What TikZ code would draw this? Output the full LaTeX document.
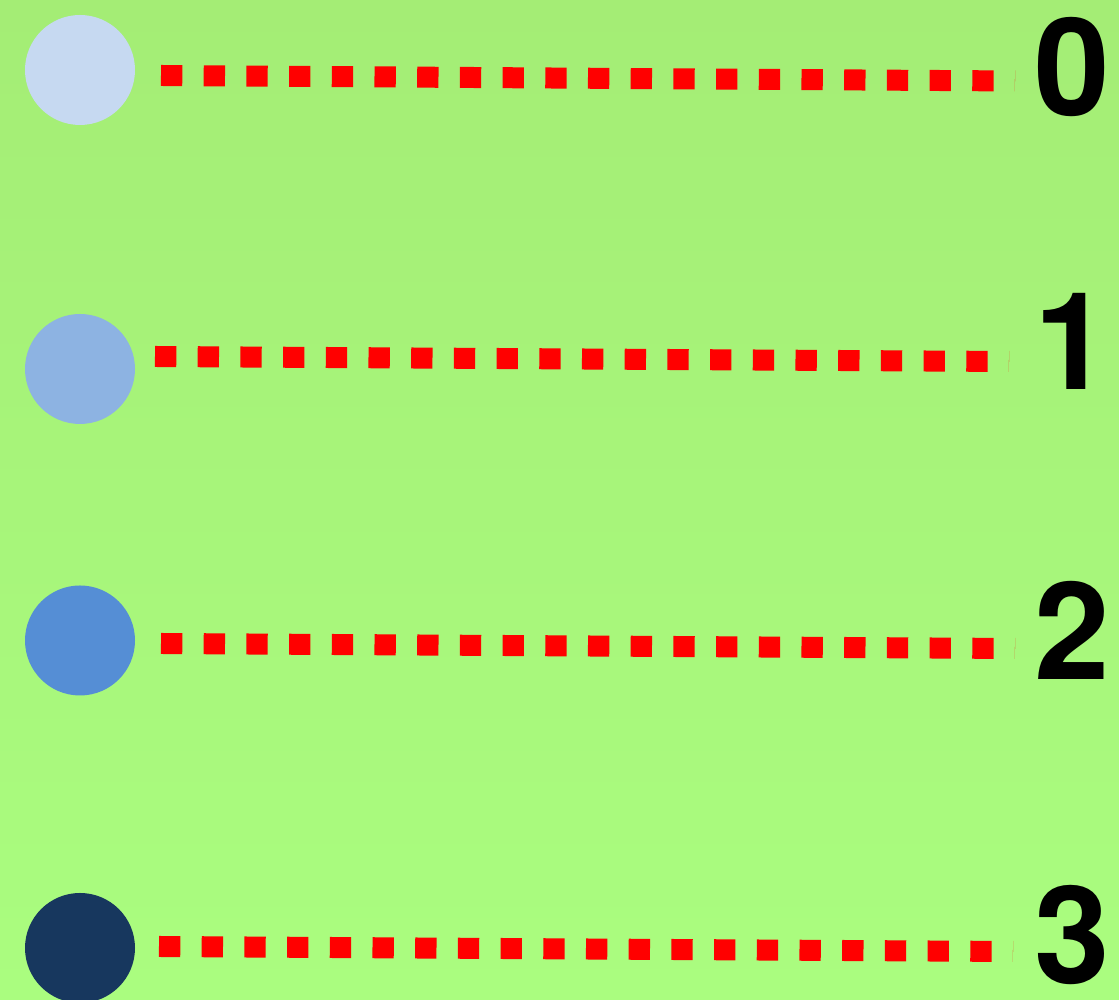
\documentclass[tikz,border=0pt]{standalone}
\usepackage{fontspec}
\setmainfont{TeX Gyre Heros}
\usetikzlibrary{shapes.geometric}

\definecolor{bgtop}{RGB}{164,237,117}
\definecolor{bgbottom}{RGB}{170,253,127}
\definecolor{levelzero}{RGB}{198,217,241}
\definecolor{levelone}{RGB}{141,179,226}
\definecolor{leveltwo}{RGB}{85,142,213}
\definecolor{levelthree}{RGB}{23,55,94}

\tikzset{
  dot/.style={circle, inner sep=0pt, minimum size=1.1cm, draw=none},
  levelnum/.style={anchor=base, inner sep=0pt, font=\fontsize{38.6}{40}\selectfont\bfseries},
  dotline/.style={draw=red, line width=0.21cm, line cap=butt, dash pattern=on 0.213cm off 0.214cm},
}

\begin{document}
\begin{tikzpicture}

% background
\useasboundingbox (0,0) rectangle (11.19,-10);
\shade[top color=bgtop, bottom color=bgbottom] (0,0) rectangle (11.19,-10);

% Level 0 — lightest dot, top row
\node[dot, fill=levelzero] (dot0) at (0.80,-0.70) {};
\node[levelnum] (num0) at (10.72,-1.16) {0};
\coordinate (from0) at (1.61,-0.755);
\coordinate (to0) at (10.15,-0.81);
\draw[dotline] (from0) -- (to0);

% Level 1
\node[dot, fill=levelone] (dot1) at (0.80,-3.69) {};
\node[levelnum] (num1) at (10.72,-3.90) {1};
\coordinate (from1) at (1.55,-3.565);
\coordinate (to1) at (10.09,-3.615);
\draw[dotline] (from1) -- (to1);

% Level 2
\node[dot, fill=leveltwo] (dot2) at (0.80,-6.405) {};
\node[levelnum] (num2) at (10.72,-6.80) {2};
\coordinate (from2) at (1.61,-6.435);
\coordinate (to2) at (10.15,-6.485);
\draw[dotline] (from2) -- (to2);

% Level 3 — darkest dot, cut by the bottom edge
\node[dot, fill=levelthree] (dot3) at (0.80,-9.48) {};
\node[levelnum] (num3) at (10.72,-9.84) {3};
\coordinate (from3) at (1.59,-9.465);
\coordinate (to3) at (10.13,-9.515);
\draw[dotline] (from3) -- (to3);

\end{tikzpicture}
\end{document}
